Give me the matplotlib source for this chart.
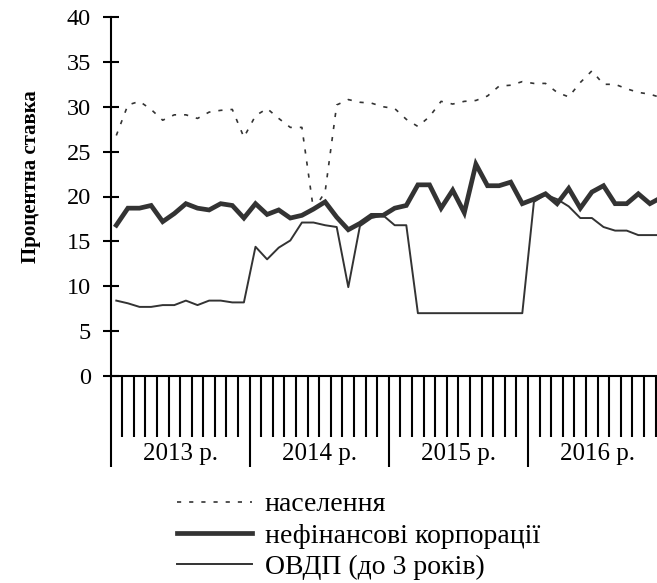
import numpy as np
import matplotlib
matplotlib.use("Agg")
import matplotlib.pyplot as plt
from matplotlib.transforms import blended_transform_factory

plt.rcParams['font.family'] = ['Liberation Serif', 'DejaVu Serif']

# monthly values, Jan 2013 .. Dec 2016
years = ["2013 р.", "2014 р.", "2015 р.", "2016 р."]
population = [26.8, 30.2, 30.6, 29.7, 28.5, 29.1, 29.1, 28.7, 29.4, 29.6, 29.7, 26.6,
              29.0, 29.8, 28.7, 27.7, 27.7, 18.5, 20.5, 30.2, 30.8, 30.5, 30.4, 30.0,
              29.8, 28.6, 27.8, 28.9, 30.6, 30.3, 30.6, 30.7, 31.2, 32.3, 32.4, 32.8,
              32.6, 32.6, 31.6, 31.1, 32.7, 34.0, 32.5, 32.5, 32.0, 31.6, 31.4, 31.0]
corporations = [16.8, 18.7, 18.7, 19.0, 17.2, 18.1, 19.2, 18.7, 18.5, 19.2, 19.0, 17.6,
                19.2, 18.0, 18.5, 17.6, 17.9, 18.6, 19.4, 17.7, 16.3, 17.0, 17.9, 17.9,
                18.7, 19.0, 21.3, 21.3, 18.7, 20.7, 18.2, 23.6, 21.2, 21.2, 21.6, 19.2,
                19.7, 20.3, 19.2, 20.9, 18.7, 20.5, 21.2, 19.2, 19.2, 20.3, 19.2, 19.9]
govbonds = [8.4, 8.1, 7.7, 7.7, 7.9, 7.9, 8.4, 7.9, 8.4, 8.4, 8.2, 8.2,
            14.4, 13.0, 14.3, 15.1, 17.1, 17.1, 16.8, 16.6, 9.9, 16.7, 17.6, 17.9,
            16.8, 16.8, 7.0, 7.0, 7.0, 7.0, 7.0, 7.0, 7.0, 7.0, 7.0, 7.0,
            19.4, 20.2, 19.7, 18.9, 17.6, 17.6, 16.6, 16.2, 16.2, 15.7, 15.7, 15.7]
labels = ["населення", "нефінансові корпорації", "ОВДП (до 3 років)"]

n = len(population)
x = np.arange(n)
W, H = 657, 583
fig = plt.figure(figsize=(W / 100, H / 100), dpi=100)
# axes deliberately runs past the right edge, like the original crop
ax = fig.add_axes([110.5 / W, (H - 376) / H, 556.8 / W, 359 / H])

line_col = "#333333"
l1, = ax.plot(x, population, color=line_col, lw=1.2, linestyle=(0, (2.5, 4.8)))
l2, = ax.plot(x, corporations, color=line_col, lw=3.4, solid_joinstyle="miter")
l3, = ax.plot(x, govbonds, color=line_col, lw=1.4)

ax.set_xlim(-0.5, n - 0.5)
ax.set_ylim(0, 40)
ax.set_yticks(np.arange(0, 41, 5))
ax.tick_params(axis="y", direction="inout", length=12, width=1.5, pad=8, labelsize=17.5)

for s in ["top", "right"]:
    ax.spines[s].set_visible(False)
ax.spines["left"].set_linewidth(1.5)
ax.spines["bottom"].set_linewidth(1.5)

# category axis: month ticks plus longer year separators
bounds = np.arange(n + 1) - 0.5
year_bounds = bounds[::12]
month_bounds = [b for b in bounds if b not in year_bounds]
ax.set_xticks(month_bounds)
ax.set_xticks(year_bounds, minor=True)
ax.tick_params(axis="x", which="major", direction="out", length=44, width=1.5, labelbottom=False)
ax.tick_params(axis="x", which="minor", direction="out", length=65.5, width=1.5, labelbottom=False)

trans = blended_transform_factory(ax.transData, ax.transAxes)
for k, yl in enumerate(years):
    ax.text(k * 12 + 5.5, -0.216, yl, transform=trans, ha="center", va="center", fontsize=18)

fig.text(31.5 / W, 1 - 176.5 / H, "Процентна ставка", rotation=90, ha="center", va="center",
         fontsize=15, fontweight="bold")

fig.legend([l1, l2, l3], labels, loc="upper left", bbox_to_anchor=(176.7 / W, 1 - 492 / H),
           frameon=False, fontsize=20, handlelength=2.7, handletextpad=0.47,
           labelspacing=0.21, borderpad=0, borderaxespad=0)

fig.savefig("out.png", dpi=100)
